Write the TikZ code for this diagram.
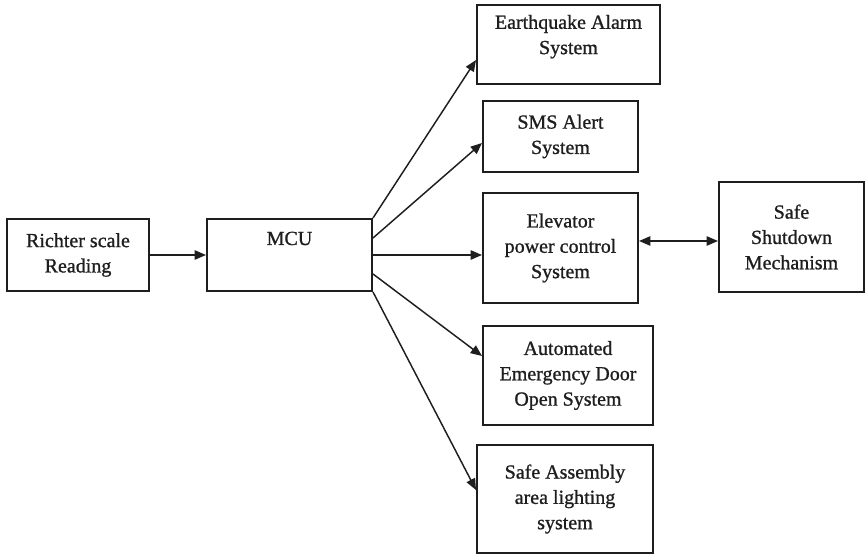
\documentclass[tikz,border=0pt]{standalone}
\usepackage{fontspec}
\setmainfont[FakeBold=1]{Liberation Serif}
\usetikzlibrary{arrows.meta,calc}
\definecolor{ink}{HTML}{1E1E1E}
\begin{document}
\begin{tikzpicture}[x=0.75pt,y=-0.75pt,
  blockbox/.style={draw=ink,line width=1.5pt,rectangle,inner sep=2pt,
    align=center,text=ink,font=\fontsize{15pt}{19pt}\selectfont},
  tip/.style={Triangle[length=8.5pt,width=7pt]},
  link/.style={draw=ink,line width=1.1pt,-{Triangle[length=8.5pt,width=7pt]}},
  biway/.style={draw=ink,line width=1.1pt,{Triangle[length=8.5pt,width=7pt]}-{Triangle[length=8.5pt,width=7pt]}}]
\useasboundingbox (0,0) rectangle (866,555);

% input and controller
\node[blockbox,minimum width=142*0.75pt,minimum height=72*0.75pt] (rich) at (78,255) {Richter scale\\Reading};
\node[blockbox,minimum width=165*0.75pt,minimum height=72*0.75pt,text height=10pt,text depth=25pt] (mcu) at (289.5,255) {MCU};

% output subsystems
\node[blockbox,minimum width=183*0.75pt,minimum height=79*0.75pt] (eq) at (568.5,44.5) {Earthquake Alarm\\System\\[-4pt]};
\node[blockbox,minimum width=155*0.75pt,minimum height=71*0.75pt] (sms) at (560.5,136.5) {SMS Alert\\System};
\node[blockbox,minimum width=155*0.75pt,minimum height=110*0.75pt] (elev) at (560.5,248) {Elevator\\power control\\System};
\node[blockbox,minimum width=145*0.75pt,minimum height=110*0.75pt] (shut) at (791.5,237) {Safe\\Shutdown\\Mechanism};
\node[blockbox,minimum width=170*0.75pt,minimum height=99*0.75pt] (door) at (568,375.5) {Automated\\Emergency Door\\Open System};
\node[blockbox,minimum width=176*0.75pt,minimum height=108*0.75pt] (light) at (565,499) {Safe Assembly\\area lighting\\system};

% connections
\draw[link] (rich.east) -- (rich.east -| mcu.west);
\draw[link] (mcu.north east) -- ($(eq.west)+(0,15.5)$);
\draw[link] ($(mcu.east)+(0,-17)$) -- ($(sms.west)+(0,6.5)$);
\draw[link] (mcu.east) -- (mcu.east -| elev.west);
\draw[link] ($(mcu.east)+(0,19)$) -- ($(door.west)+(0,-19.5)$);
\draw[link] (mcu.south east) -- ($(light.west)+(0,-9)$);
\coordinate (bistart) at ($(elev.east)+(0,-7)$);
\draw[biway] (bistart) -- (bistart -| shut.west);
\end{tikzpicture}
\end{document}
